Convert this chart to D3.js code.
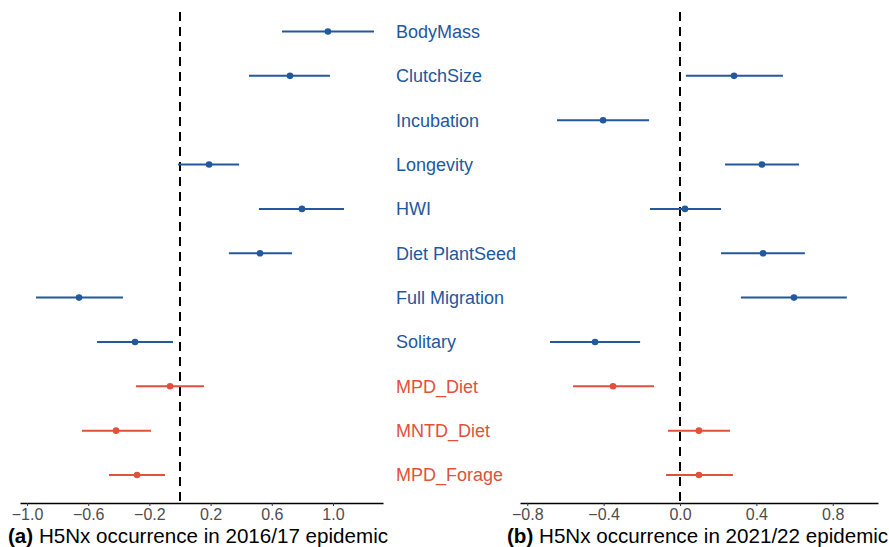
<!DOCTYPE html>
<html>
<head>
<meta charset="utf-8">
<script src="https://cdn.jsdelivr.net/npm/d3@7"></script>
<style>
  body { margin: 0; background: #fff; }
  svg { font-family: "Liberation Sans", Arial, Helvetica, sans-serif; }
</style>
</head>
<body>
<svg id="chart" width="889" height="547"></svg>
<script>
'use strict'

// predictors, top to bottom
const traits = ['BodyMass', 'ClutchSize', 'Incubation', 'Longevity', 'HWI', 'Diet PlantSeed',
                'Full Migration', 'Solitary', 'MPD_Diet', 'MNTD_Diet', 'MPD_Forage']
const traitType = ['trait', 'trait', 'trait', 'trait', 'trait', 'trait',
                   'trait', 'trait', 'phylo', 'phylo', 'phylo']

// 2016/17 epidemic: estimate and interval (null = not in model)
const est2016 = [0.967, 0.719, null, 0.190, 0.797, 0.523, -0.660, -0.294, -0.065, -0.418, -0.281]
const lo2016  = [0.667, 0.451, null, -0.013, 0.516, 0.320, -0.941, -0.542, -0.288, -0.641, -0.464]
const hi2016  = [1.268, 0.980, null, 0.386, 1.072, 0.732, -0.373, -0.046, 0.157, -0.190, -0.098]

// 2021/22 epidemic
const est2021 = [null, 0.283, -0.403, 0.429, 0.026, 0.435, 0.597, -0.445, -0.351, 0.099, 0.099]
const lo2021  = [null, 0.031, -0.644, 0.236, -0.157, 0.215, 0.319, -0.681, -0.560, -0.063, -0.073]
const hi2021  = [null, 0.539, -0.162, 0.623, 0.215, 0.654, 0.874, -0.209, -0.136, 0.262, 0.277]

const ticks2016 = [-1.0, -0.6, -0.2, 0.2, 0.6, 1.0]
const ticks2021 = [-0.8, -0.4, 0.0, 0.4, 0.8]

const colors = {trait: '#22589e', phylo: '#e0513b'}

const svg = d3.select('#chart')
const y = d3.scalePoint().domain(traits).range([31.5, 475])
const axisY = 503

function rows(est, lo, hi){
  return traits.map((t, i) => ({trait: t, type: traitType[i], est: est[i], lo: lo[i], hi: hi[i]}))
               .filter(d => d.est !== null)
}

function panel(x, data, ticks, tag, title, titleX){
  let g = svg.append('g')

  // zero reference line
  g.append('line')
    .attr('x1', x(0)).attr('x2', x(0))
    .attr('y1', 12).attr('y2', axisY)
    .attr('stroke', '#000')
    .attr('stroke-width', 2)
    .attr('stroke-dasharray', '9,6')

  g.selectAll('.bar').data(data).enter().append('line')
    .attr('class', 'bar')
    .attr('x1', d => x(d.lo)).attr('x2', d => x(d.hi))
    .attr('y1', d => y(d.trait)).attr('y2', d => y(d.trait))
    .attr('stroke', d => colors[d.type])
    .attr('stroke-width', 2)

  g.selectAll('.pt').data(data).enter().append('circle')
    .attr('class', 'pt')
    .attr('cx', d => x(d.est)).attr('cy', d => y(d.trait))
    .attr('r', 3.3)
    .attr('fill', d => colors[d.type])

  let ax = g.append('g')
    .attr('transform', `translate(0,${axisY})`)
    .call(d3.axisBottom(x).tickValues(ticks).tickFormat(d3.format('.1f'))
            .tickSizeOuter(0).tickSizeInner(3).tickPadding(3))
  ax.select('.domain').attr('stroke', '#000').attr('stroke-width', 1.6)
  ax.selectAll('.tick line').attr('stroke', '#333').attr('stroke-width', 1)
  ax.selectAll('.tick text')
    .attr('fill', '#4d4d4d')
    .attr('font-size', 16)
    .attr('font-family', '"Liberation Sans", Arial, sans-serif')

  let t = g.append('text')
    .attr('x', titleX).attr('y', 543)
    .attr('font-size', 20.6)
    .attr('fill', '#000')
  t.append('tspan').attr('font-weight', 'bold').text(tag)
  t.append('tspan').text(' ' + title)
}

const x2016 = d3.scaleLinear().domain([-1.046, 1.327]).range([20, 383])
const x2021 = d3.scaleLinear().domain([-0.838, 1.037]).range([520, 878])

panel(x2016, rows(est2016, lo2016, hi2016), ticks2016, '(a)', 'H5Nx occurrence in 2016/17 epidemic', 8)
panel(x2021, rows(est2021, lo2021, hi2021), ticks2021, '(b)', 'H5Nx occurrence in 2021/22 epidemic', 507)

// predictor names between the panels
svg.append('g').selectAll('text').data(traits).enter().append('text')
  .attr('x', 396)
  .attr('y', d => y(d))
  .attr('dy', '0.36em')
  .attr('font-size', 18)
  .attr('fill', (d, i) => colors[traitType[i]])
  .text(d => d)
</script>
</body>
</html>
